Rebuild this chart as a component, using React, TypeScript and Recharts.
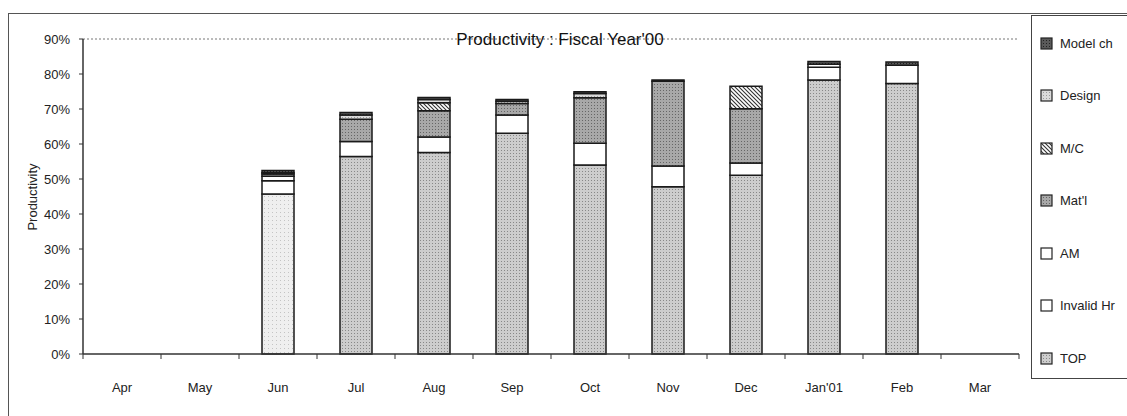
import React from "react";
import { BarChart, Bar, XAxis, YAxis, ReferenceLine, Cell } from "recharts";

const months = ["Apr", "May", "Jun", "Jul", "Aug", "Sep", "Oct", "Nov", "Dec", "Jan'01", "Feb", "Mar"];
// stacked segments, bottom to top (percent)
const topVals = [null, null, 45.7, 56.4, 57.6, 63.1, 54.0, 47.8, 51.1, 78.3, 77.3, null];
const invalidHr = [null, null, 3.8, 4.3, 4.4, 5.2, 6.2, 5.9, 3.5, 3.6, 5.2, null];
const am = [null, null, 1.3, 0, 0, 0, 0, 0, 0, 0.9, 0, null];
const matl = [null, null, 0.6, 6.4, 7.5, 3.3, 13.0, 24.2, 15.5, 0, 0, null];
const mc = [null, null, 0, 0, 2.3, 0, 0, 0, 6.4, 0, 0, null];
const design = [null, null, 0.4, 1.2, 0.9, 0.6, 1.2, 0, 0, 0, 0, null];
const modelCh = [null, null, 0.6, 0.7, 0.6, 0.5, 0.5, 0.4, 0, 0.8, 0.9, null];

const yTicks = [0, 10, 20, 30, 40, 50, 60, 70, 80, 90];

const series = [
  { key: "top", name: "TOP", values: topVals, fill: "url(#pTop)" },
  { key: "invalid", name: "Invalid Hr", values: invalidHr, fill: "#ffffff" },
  { key: "am", name: "AM", values: am, fill: "#ffffff" },
  { key: "matl", name: "Mat'l", values: matl, fill: "url(#pMatl)" },
  { key: "mc", name: "M/C", values: mc, fill: "url(#pMc)" },
  { key: "design", name: "Design", values: design, fill: "url(#pDesign)" },
  { key: "model", name: "Model ch", values: modelCh, fill: "url(#pModel)" },
];

const data = months.map((m, i) => {
  const row: Record<string, any> = { month: m };
  series.forEach((s) => (row[s.key] = s.values[i]));
  return row;
});

const FONT = "'Liberation Sans', Arial, sans-serif";
const LABEL_GAP = 29;

function Patterns() {
  return (
    <defs>
      <pattern id="pTop" width="3" height="3" patternUnits="userSpaceOnUse">
        <rect width="3" height="3" fill="#cdcdcd" />
        <rect width="1" height="1" fill="#888" />
      </pattern>
      <pattern id="pTopLight" width="4" height="4" patternUnits="userSpaceOnUse">
        <rect width="4" height="4" fill="#efefef" />
        <rect width="1" height="1" fill="#c4c4c4" />
      </pattern>
      <pattern id="pMatl" width="3" height="3" patternUnits="userSpaceOnUse">
        <rect width="3" height="3" fill="#a8a8a8" />
        <rect width="1" height="1" fill="#666" />
      </pattern>
      <pattern id="pMc" width="4" height="4" patternUnits="userSpaceOnUse">
        <rect width="4" height="4" fill="#ffffff" />
        <path d="M-1,-1 L5,5 M-1,3 L1,5 M3,-1 L5,1" stroke="#333" strokeWidth="1.1" />
      </pattern>
      <pattern id="pDesign" width="3" height="3" patternUnits="userSpaceOnUse">
        <rect width="3" height="3" fill="#dadada" />
        <rect width="1" height="1" fill="#9a9a9a" />
      </pattern>
      <pattern id="pModel" width="3" height="3" patternUnits="userSpaceOnUse">
        <rect width="3" height="3" fill="#5a5a5a" />
        <rect width="1" height="1" fill="#222" />
      </pattern>
    </defs>
  );
}

// month label plus the small tick marks at the category boundaries
function MonthTick(props: any) {
  const { x, y, payload, index, visibleTicksCount } = props;
  const half = payload?.offset ?? 0;
  const axisY = y - LABEL_GAP;
  const last = index === visibleTicksCount - 1;
  return (
    <g>
      <line x1={x - half} x2={x - half} y1={axisY} y2={axisY + 5} stroke="#333" />
      {last ? <line x1={x + half} x2={x + half} y1={axisY} y2={axisY + 5} stroke="#333" /> : null}
      <text
        x={x}
        y={y}
        dy="0.71em"
        textAnchor="middle"
        fontSize={13}
        fill="#222"
        fontFamily={FONT}
      >
        {payload.value}
      </text>
    </g>
  );
}

function LegendBox() {
  const items = [...series].reverse();
  return (
    <div
      style={{
        position: "absolute",
        left: 1031,
        top: 15,
        width: 120,
        height: 362,
        border: "1px solid #444",
        background: "#fff",
        fontFamily: FONT,
        fontSize: 13,
        color: "#222",
      }}
    >
      {items.map((s, i) => (
        <div
          key={s.key}
          style={{
            position: "absolute",
            left: 8,
            top: 19 + i * 52.5,
            height: 16,
            display: "flex",
            alignItems: "center",
            whiteSpace: "nowrap",
          }}
        >
          <svg width={13} height={13} style={{ marginRight: 7 }}>
            <rect x={1} y={1} width={11} height={11} fill={s.fill} stroke="#222" strokeWidth={1.2} />
          </svg>
          {s.name}
        </div>
      ))}
    </div>
  );
}

export default function App() {
  return (
    <div
      style={{
        position: "fixed",
        left: 0,
        top: 0,
        width: 1127,
        height: 416,
        overflow: "hidden",
        background: "#fff",
      }}
    >
      <div
        style={{
          position: "absolute",
          left: 8,
          top: 13,
          width: 1140,
          height: 420,
          border: "1px solid #555",
        }}
      />
      <div style={{ position: "absolute", left: 0, top: 0 }}>
        <BarChart
          width={1023}
          height={416}
          data={data}
          margin={{ top: 39, right: 4, left: 0, bottom: 12 }}
          style={{ fontFamily: FONT }}
        >
          <Patterns />
          <XAxis
            xAxisId="cat"
            dataKey="month"
            axisLine={{ stroke: "#333", strokeWidth: 1.5 }}
            tickLine={false}
            tickSize={0}
            tickMargin={LABEL_GAP}
            height={50}
            interval={0}
            tick={<MonthTick />}
          />
          <YAxis
            yAxisId="left"
            domain={[0, 90]}
            ticks={yTicks}
            width={83}
            tickSize={4}
            tickMargin={9}
            tickFormatter={(v) => `${v}%`}
            axisLine={{ stroke: "#333", strokeWidth: 1.5 }}
            tickLine={{ stroke: "#333" }}
            tick={{ fontSize: 13, fill: "#222", fontFamily: FONT }}
          />
          <YAxis
            yAxisId="right"
            orientation="right"
            domain={[0, 90]}
            width={0}
            tick={false}
            tickLine={false}
            axisLine={{ stroke: "#777", strokeDasharray: "2 2" }}
          />
          <ReferenceLine
            xAxisId="cat"
            yAxisId="left"
            y={90}
            stroke="#777"
            strokeDasharray="2 2"
          />
          {series.map((s) => (
            <Bar
              key={s.key}
              xAxisId="cat"
              yAxisId="left"
              dataKey={s.key}
              name={s.name}
              stackId="a"
              barSize={32}
              fill={s.fill}
              stroke="#1a1a1a"
              strokeWidth={1.5}
              isAnimationActive={false}
            >
              {s.key === "top"
                ? data.map((d, i) => (
                    <Cell key={i} fill={d.month === "Jun" ? "url(#pTopLight)" : s.fill} />
                  ))
                : null}
            </Bar>
          ))}
        </BarChart>
      </div>
      <div
        style={{
          position: "absolute",
          left: 560,
          top: 30,
          transform: "translateX(-50%)",
          fontFamily: FONT,
          fontSize: 17,
          color: "#111",
          whiteSpace: "nowrap",
        }}
      >
        Productivity : Fiscal Year'00
      </div>
      <div
        style={{
          position: "absolute",
          left: 32,
          top: 197,
          transform: "translate(-50%, -50%) rotate(-90deg)",
          fontFamily: FONT,
          fontSize: 13,
          color: "#222",
          whiteSpace: "nowrap",
        }}
      >
        Productivity
      </div>
      <LegendBox />
    </div>
  );
}
